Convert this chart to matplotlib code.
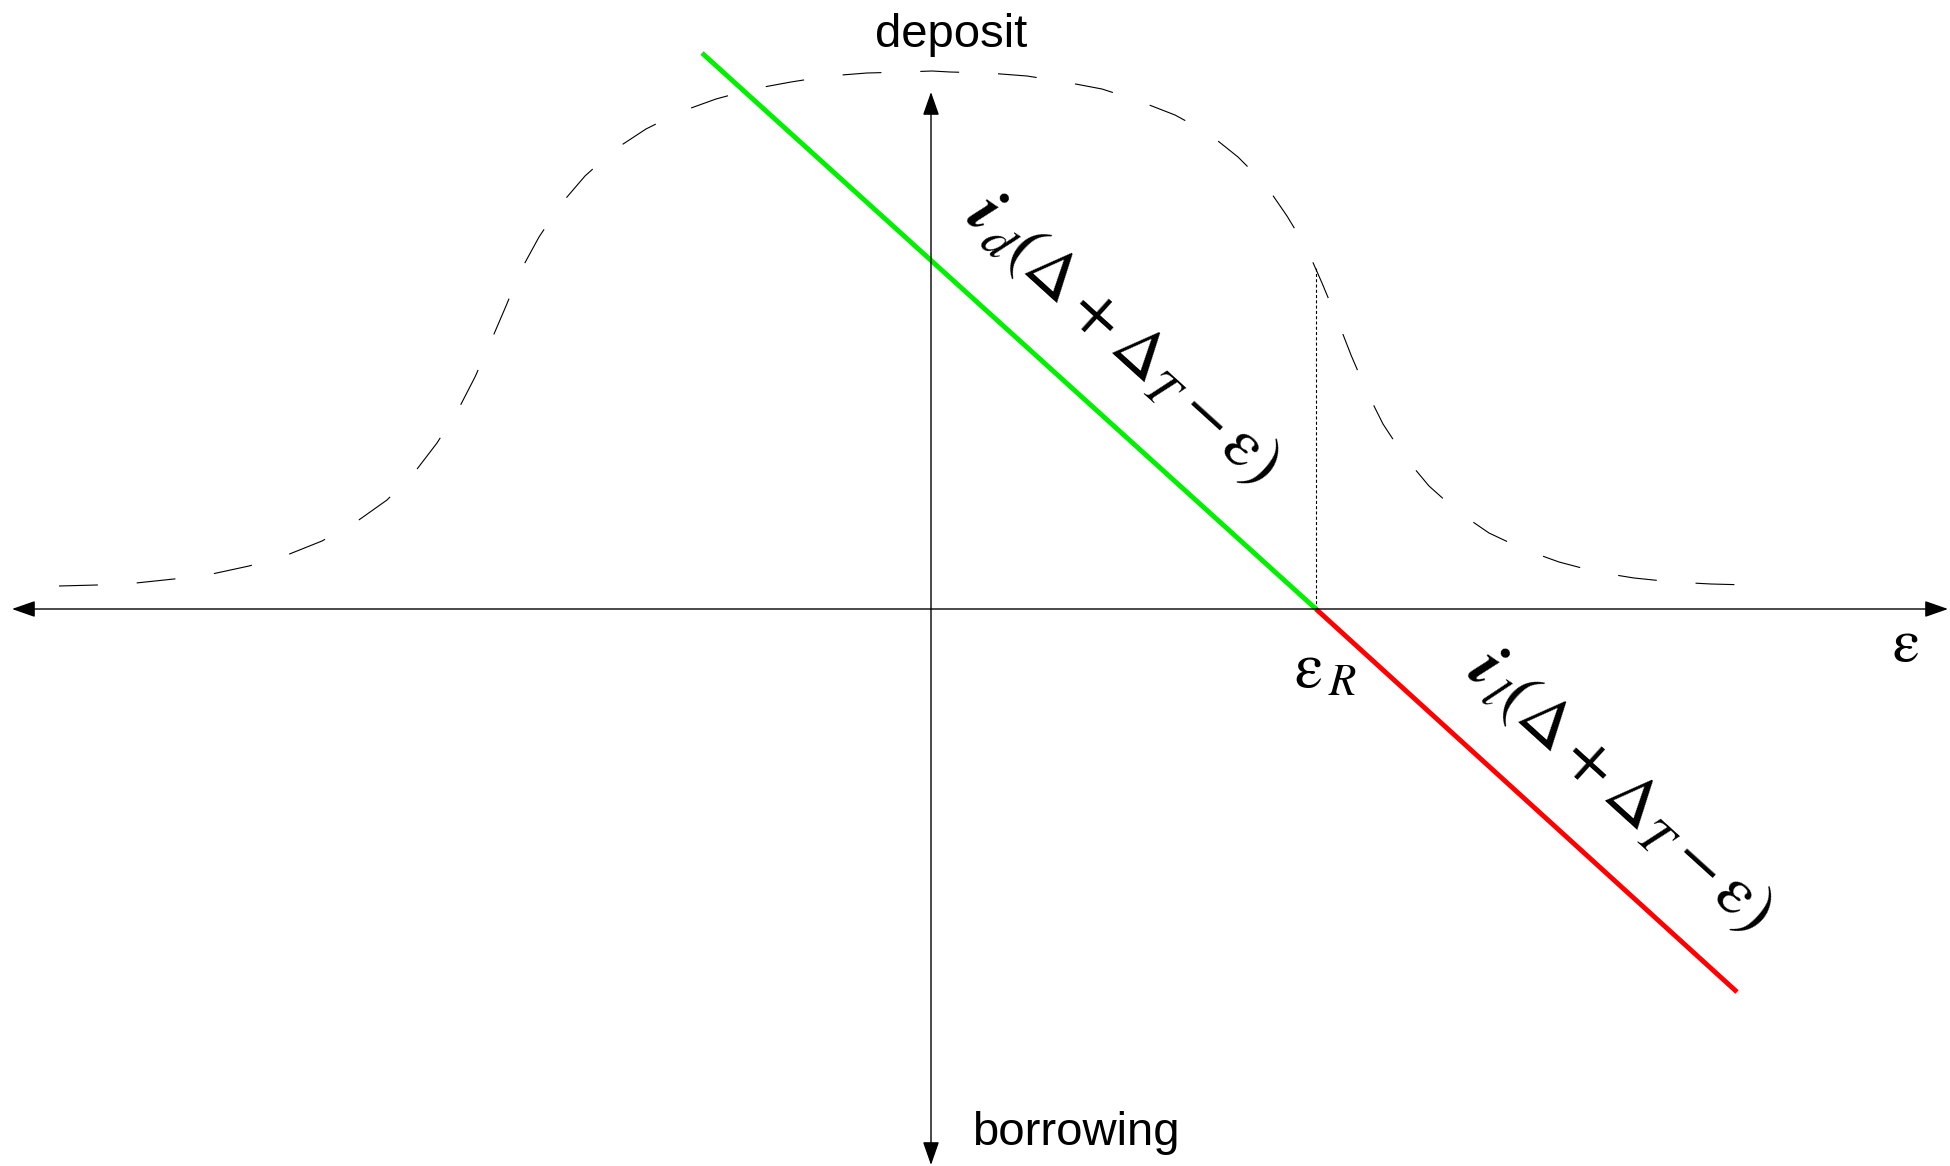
import numpy as np
import matplotlib
matplotlib.use("Agg")
import matplotlib.pyplot as plt

plt.rcParams['mathtext.fontset'] = 'stix'
plt.rcParams['lines.scale_dashes'] = False

# Occupation-like bump drawn as a dashed guide curve
curve_x = [-8.72, -8.34, -7.95, -7.57, -7.19, -6.82, -6.44, -6.09, -5.75, -5.44,
           -5.17, -4.94, -4.73, -4.56, -4.40, -4.25, -4.10, -3.92, -3.70, -3.46,
           -3.17, -2.85, -2.51, -2.15, -1.78, -1.40, -1.02, -0.64, -0.26, 0.01,
           0.19, 0.57, 0.96, 1.34, 1.71, 2.08, 2.44, 2.77, 3.07, 3.34,
           3.56, 3.76, 3.91, 4.06, 4.20, 4.35, 4.52, 4.73, 4.98, 5.26,
           5.58, 5.92, 6.28, 6.66, 7.03, 7.42, 7.80, 8.18]
curve_y = [0.23, 0.24, 0.26, 0.30, 0.35, 0.43, 0.54, 0.68, 0.87, 1.09,
           1.36, 1.66, 1.99, 2.32, 2.68, 3.03, 3.39, 3.72, 4.05, 4.33,
           4.59, 4.80, 4.97, 5.10, 5.20, 5.27, 5.33, 5.36, 5.37, 5.38,
           5.37, 5.36, 5.33, 5.27, 5.20, 5.08, 4.94, 4.76, 4.52, 4.25,
           3.93, 3.60, 3.26, 2.90, 2.54, 2.19, 1.85, 1.53, 1.23, 0.98,
           0.76, 0.60, 0.47, 0.37, 0.31, 0.27, 0.25, 0.24]

# Interest line: deposit branch (green) and borrowing branch (red), split at eps_R
eps_R = 3.85
deposit_x = [-2.29, eps_R]
deposit_y = [5.56, 0.0]
borrow_x = [eps_R, 8.06]
borrow_y = [0.0, -3.83]

# Top of the dotted marker above eps_R
eps_R_marker_top = 3.42

# Extents of the two coordinate axes
x_axis_span = [-9.19, 10.17]
y_axis_span = [-5.56, 5.17]

fig = plt.figure(figsize=(19.5, 11.66), dpi=100)
ax = fig.add_axes([0, 0, 1, 1])
ax.set_xlim(-9.31, 10.19)
ax.set_ylim(-5.57, 6.09)
ax.axis('off')

arrow_kw = dict(arrowstyle='<|-|>,head_length=0.4,head_width=0.14',
                mutation_scale=36, lw=1.0, color='black',
                shrinkA=0, shrinkB=0)
ax.annotate('', xy=(x_axis_span[1], 0), xytext=(x_axis_span[0], 0),
            arrowprops=arrow_kw)
ax.annotate('', xy=(0, y_axis_span[1]), xytext=(0, y_axis_span[0]),
            arrowprops=arrow_kw)

ax.plot(curve_x, curve_y, color='black', lw=0.8, dashes=(28, 28))
ax.plot([eps_R, eps_R], [0, eps_R_marker_top], color='black', lw=0.8,
        dashes=(2.2, 1.6))

ax.plot(deposit_x, deposit_y, color='#00f000', lw=3.5, solid_capstyle='butt')
ax.plot(borrow_x, borrow_y, color='#ff0000', lw=3.5, solid_capstyle='butt')

angle = np.degrees(np.arctan2(deposit_y[1] - deposit_y[0],
                              deposit_x[1] - deposit_x[0]))

label_d = r'$\mathbfit{i}_{\,d}\left(\Delta + \Delta_T - \mathrm{ε}\right)$'
label_l = r'$\mathbfit{i}_{\,l}\left(\Delta + \Delta_T - \mathrm{ε}\right)$'
ax.text(1.93, 2.71, label_d,
        fontsize=50, rotation=angle, rotation_mode='anchor',
        transform_rotates_text=True, ha='center', va='center')
ax.text(6.90, -1.81, label_l,
        fontsize=50, rotation=angle, rotation_mode='anchor',
        transform_rotates_text=True, ha='center', va='center')

ax.text(eps_R + 0.09, -0.30, r'$\mathrm{ε}_{\,R}$', fontsize=46,
        ha='center', va='top')
ax.text(9.74, -0.36, r'$\mathrm{ε}$', fontsize=44, ha='center', va='center')

ax.text(0.20, 5.62, 'deposit', fontsize=34, family='Liberation Sans',
        ha='center', va='baseline')
ax.text(0.41, -5.36, 'borrowing', fontsize=34, family='Liberation Sans',
        ha='left', va='baseline')

fig.savefig('out.png', dpi=100)
